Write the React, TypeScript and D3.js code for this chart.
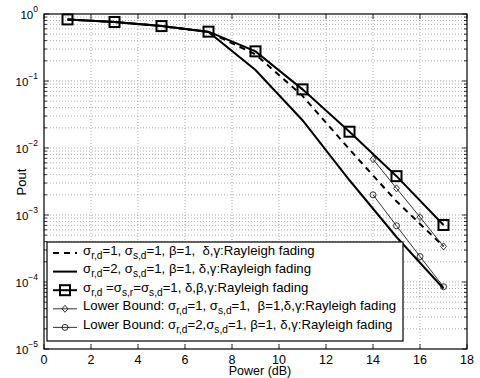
import React from "react"
import * as d3 from "d3"

// power axis (dB) and outage probabilities
const powerFull = [1, 3, 5, 7, 9, 11, 13, 15, 17]
const poutSigma1 = [0.83, 0.76, 0.66, 0.54, 0.25, 0.06, 0.0095, 0.0016, 0.00034]
const poutSigma2 = [0.83, 0.76, 0.66, 0.54, 0.146, 0.026, 0.0033, 0.00047, 0.00008]
const poutAllRayleigh = [0.83, 0.76, 0.66, 0.545, 0.277, 0.075, 0.0175, 0.0038, 0.00071]
const powerBound = [14, 15, 16, 17]
const boundSigma1 = [0.0068, 0.0025, 0.00093, 0.00034]
const boundSigma2 = [0.002, 0.00069, 0.00024, 0.000085]

const xTicks = [0, 2, 4, 6, 8, 10, 12, 14, 16, 18]
const yExponents = [0, -1, -2, -3, -4, -5]

const legendLabels = [
    "σ_{r,d}=1, σ_{s,d}=1, β=1,  δ,γ:Rayleigh fading",
    "σ_{r,d}=2, σ_{s,d}=1, β=1, δ,γ:Rayleigh fading",
    "σ_{r,d} =σ_{s,r}=σ_{s,d}=1, δ,β,γ:Rayleigh fading",
    "Lower Bound: σ_{r,d}=1, σ_{s,d}=1,  β=1,δ,γ:Rayleigh fading",
    "Lower Bound: σ_{r,d}=2,σ_{s,d}=1, β=1, δ,γ:Rayleigh fading",
]

const W = 480
const H = 378
const left = 44
const right = 467
const top = 14
const bottom = 349
const font = "'Liberation Sans', Arial, Helvetica, sans-serif"

// renders "a_{b}c" with subscripts as tspans
const SubText = ({ s, x, y, size }: { s: string; x: number; y: number; size: number }) => {
    const parts = s.split(/_\{([^}]*)\}/)
    const out: React.ReactNode[] = []
    let shift = 0
    parts.forEach((p, i) => {
        if (p === "") return
        const isSub = i % 2 === 1
        const target = isSub ? 4 : 0
        out.push(
            <tspan key={i} dy={target - shift} fontSize={isSub ? size * 0.77 : size} style={{ whiteSpace: "pre" }}>
                {p}
            </tspan>
        )
        shift = target
    })
    return (
        <text x={x} y={y} fontFamily={font} fontSize={size} xmlSpace="preserve" style={{ whiteSpace: "pre" }}>
            {out}
        </text>
    )
}

const Square = ({ cx, cy }: { cx: number; cy: number }) => (
    <rect x={cx - 5} y={cy - 5} width={10} height={10} fill="none" stroke="#000" strokeWidth={2} />
)
const Diamond = ({ cx, cy }: { cx: number; cy: number }) => (
    <path d={`M${cx},${cy - 3.5}L${cx + 3},${cy}L${cx},${cy + 3.5}L${cx - 3},${cy}Z`} fill="none" stroke="#000" strokeWidth={0.8} />
)
const Circ = ({ cx, cy }: { cx: number; cy: number }) => (
    <circle cx={cx} cy={cy} r={3} fill="none" stroke="#000" strokeWidth={0.8} />
)

export default function App() {
    const x = d3.scaleLinear().domain([0, 18]).range([left, right])
    const y = d3.scaleLog().domain([1e-5, 1]).range([bottom, top])

    const line = d3
        .line<[number, number]>()
        .x((d) => x(d[0]))
        .y((d) => y(d[1]))

    const pts = (xs: number[], ys: number[]) => xs.map((v, i) => [v, ys[i]] as [number, number])

    // minor grid values 2..9 per decade
    const minor: number[] = []
    for (let e = -5; e < 0; e++) for (let m = 2; m <= 9; m++) minor.push(m * Math.pow(10, e))

    const lx0 = 47
    const ly0 = 242
    const lx1 = 403
    const ly1 = 341
    const rowY = (i: number) => 253 + i * 18.6

    return (
        <svg width={W} height={H} style={{ position: "absolute", left: 0, top: 0, background: "#fff" }}>
            <rect width={W} height={H} fill="#fff" />
            {/* grid */}
            <g stroke="#777" strokeWidth={0.6} strokeDasharray="1 2">
                {xTicks.slice(1, -1).map((t) => (
                    <line key={"gx" + t} x1={x(t)} x2={x(t)} y1={top} y2={bottom} />
                ))}
                {minor.concat(yExponents.slice(1, -1).map((e) => Math.pow(10, e))).map((v, i) => (
                    <line key={"gy" + i} x1={left} x2={right} y1={y(v)} y2={y(v)} />
                ))}
            </g>
            {/* ticks */}
            <g stroke="#000" strokeWidth={0.8}>
                {xTicks.map((t) => (
                    <g key={"tx" + t}>
                        <line x1={x(t)} x2={x(t)} y1={bottom} y2={bottom - 5} />
                        <line x1={x(t)} x2={x(t)} y1={top} y2={top + 5} />
                    </g>
                ))}
                {yExponents.map((e) => (
                    <g key={"ty" + e}>
                        <line x1={left} x2={left + 5} y1={y(Math.pow(10, e))} y2={y(Math.pow(10, e))} />
                        <line x1={right} x2={right - 5} y1={y(Math.pow(10, e))} y2={y(Math.pow(10, e))} />
                    </g>
                ))}
                {minor.map((v, i) => (
                    <g key={"tm" + i}>
                        <line x1={left} x2={left + 3} y1={y(v)} y2={y(v)} />
                        <line x1={right} x2={right - 3} y1={y(v)} y2={y(v)} />
                    </g>
                ))}
            </g>
            {/* curves */}
            <path d={line(pts(powerFull, poutSigma1)) || ""} fill="none" stroke="#000" strokeWidth={2} strokeDasharray="6 5" />
            <path d={line(pts(powerFull, poutSigma2)) || ""} fill="none" stroke="#000" strokeWidth={2} />
            <path d={line(pts(powerFull, poutAllRayleigh)) || ""} fill="none" stroke="#000" strokeWidth={2} />
            <path d={line(pts(powerBound, boundSigma1)) || ""} fill="none" stroke="#000" strokeWidth={0.8} />
            <path d={line(pts(powerBound, boundSigma2)) || ""} fill="none" stroke="#000" strokeWidth={0.8} />
            {powerFull.map((v, i) => (
                <Square key={"sq" + i} cx={x(v)} cy={y(poutAllRayleigh[i])} />
            ))}
            {powerBound.map((v, i) => (
                <Diamond key={"di" + i} cx={x(v)} cy={y(boundSigma1[i])} />
            ))}
            {powerBound.map((v, i) => (
                <Circ key={"ci" + i} cx={x(v)} cy={y(boundSigma2[i])} />
            ))}
            {/* axes box */}
            <rect x={left} y={top} width={right - left} height={bottom - top} fill="none" stroke="#000" strokeWidth={1.2} />
            {/* tick labels */}
            {xTicks.map((t) => (
                <text key={"lx" + t} x={x(t)} y={364} textAnchor="middle" fontFamily={font} fontSize={12.5}>
                    {t}
                </text>
            ))}
            {yExponents.map((e) => (
                <text key={"ly" + e} x={38} y={y(Math.pow(10, e)) + 5} textAnchor="end" fontFamily={font} fontSize={11.5}>
                    10
                    <tspan dy={-7} fontSize={8.5}>
                        {e === 0 ? "0" : "\u2212" + Math.abs(e)}
                    </tspan>
                </text>
            ))}
            <text x={260} y={375} textAnchor="middle" fontFamily={font} fontSize={12.5}>
                Power (dB)
            </text>
            <text transform="translate(26,182) rotate(-90)" textAnchor="middle" fontFamily={font} fontSize={13}>
                Pout
            </text>
            {/* legend */}
            <rect x={lx0} y={ly0} width={lx1 - lx0} height={ly1 - ly0} fill="#fff" stroke="#000" strokeWidth={1.2} />
            {legendLabels.map((lab, i) => {
                const cy = rowY(i)
                return (
                    <g key={"lg" + i}>
                        <line
                            x1={53}
                            x2={77}
                            y1={cy}
                            y2={cy}
                            stroke="#000"
                            strokeWidth={i < 3 ? 2 : 0.8}
                            strokeDasharray={i === 0 ? "6 5" : undefined}
                        />
                        {i === 2 && <Square cx={65} cy={cy} />}
                        {i === 3 && <Diamond cx={65} cy={cy} />}
                        {i === 4 && <Circ cx={65} cy={cy} />}
                        <SubText s={lab} x={83} y={cy + 1.5} size={13.2} />
                    </g>
                )
            })}
        </svg>
    )
}
